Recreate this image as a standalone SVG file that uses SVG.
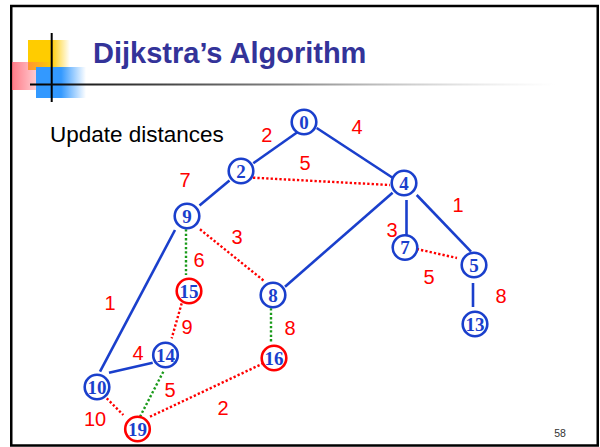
<svg xmlns="http://www.w3.org/2000/svg" width="600" height="447" viewBox="0 0 600 447">
<defs>
<linearGradient id="gy" x1="0" y1="0" x2="1" y2="0"><stop offset="0" stop-color="#FFCC00"/><stop offset="0.55" stop-color="#FFCC00"/><stop offset="1" stop-color="#FFCC00" stop-opacity="0"/></linearGradient>
<linearGradient id="gr" x1="0" y1="0" x2="1" y2="0"><stop offset="0" stop-color="#FF5A6A" stop-opacity="0.8"/><stop offset="1" stop-color="#FF5A6A" stop-opacity="0"/></linearGradient>
<linearGradient id="gb" x1="0" y1="0" x2="1" y2="0"><stop offset="0" stop-color="#3399FF"/><stop offset="0.5" stop-color="#3399FF"/><stop offset="1" stop-color="#3399FF" stop-opacity="0"/></linearGradient>
<linearGradient id="gl" x1="0" y1="0" x2="1" y2="0"><stop offset="0" stop-color="#000"/><stop offset="0.5" stop-color="#888"/><stop offset="1" stop-color="#ccc" stop-opacity="0"/></linearGradient>
</defs>
<style>
.title{font-family:"Liberation Sans",Arial,sans-serif;font-weight:bold;font-size:29px;fill:#333399}
.txt{font-family:"Liberation Sans",Arial,sans-serif;font-size:22.5px;fill:#000}
.w{font-family:"Liberation Sans",Arial,sans-serif;font-size:20px;fill:#FF0000;text-anchor:middle}
.n{font-family:"Liberation Serif","Times New Roman",serif;font-weight:bold;font-size:19px;fill:#1a3fcc;text-anchor:middle}
.cb{fill:#fff;stroke:#1a3fcc;stroke-width:2.6}
.cr{fill:#fff;stroke:#FF0000;stroke-width:2.6}
.s{stroke:#1a3fcc;stroke-width:2.6;fill:none}
.dr{stroke:#FF0000;stroke-width:2.4;stroke-dasharray:2.3 2.1;fill:none}
.dg{stroke:#1a9a1a;stroke-width:2.4;stroke-dasharray:2.3 2.1;fill:none}
</style>
<rect x="0" y="0" width="600" height="447" fill="#fff"/>
<rect x="11.25" y="6" width="586.5" height="439.5" fill="none" stroke="#000" stroke-width="2.5"/>
<g id="header">
<rect x="28" y="40" width="42" height="30" fill="url(#gy)"/>
<rect x="12" y="62" width="40" height="28" fill="url(#gr)"/>
<rect x="36" y="67" width="50" height="31" fill="url(#gb)"/>
<line x1="51.7" y1="33" x2="51.7" y2="102" stroke="#000" stroke-width="2"/>
<rect x="30" y="83.5" width="526" height="2" fill="url(#gl)"/>
<text class="title" x="93" y="63">Dijkstra’s Algorithm</text>
</g>
<text class="txt" x="50" y="142">Update distances</text>
<g id="connectors">
<line class="s" x1="253.3" y1="163.3" x2="297.3" y2="132.3"/>
<line class="s" x1="316.7" y1="128" x2="393" y2="178"/>
<line class="dr" x1="253" y1="177.7" x2="390" y2="185"/>
<line class="s" x1="229.5" y1="180.6" x2="199.5" y2="205.5"/>
<line class="s" x1="175" y1="230" x2="100" y2="371.7"/>
<line class="dg" x1="186" y1="229.3" x2="186" y2="275"/>
<line class="dr" x1="200" y1="229.3" x2="265" y2="281.7"/>
<line class="s" x1="392.6" y1="192.7" x2="285" y2="286.7"/>
<line class="s" x1="406.5" y1="200" x2="406.5" y2="235"/>
<line class="s" x1="416.7" y1="195" x2="471" y2="251.7"/>
<line class="dr" x1="416.7" y1="249" x2="457" y2="258"/>
<line class="s" x1="473" y1="283" x2="473" y2="307"/>
<line class="dr" x1="181.7" y1="303.3" x2="171.7" y2="338.3"/>
<line class="dg" x1="271" y1="308.3" x2="271" y2="343.3"/>
<line class="s" x1="109" y1="372.7" x2="152.7" y2="362.7"/>
<line class="dg" x1="163.3" y1="371.7" x2="140" y2="416.7"/>
<line class="dr" x1="106.7" y1="398.3" x2="123.3" y2="415"/>
<line class="dr" x1="150" y1="416.7" x2="263.3" y2="363.3"/>
</g>
<g id="weights">
<text class="w" x="266.7" y="142">2</text>
<text class="w" x="357" y="134">4</text>
<text class="w" x="305" y="170">5</text>
<text class="w" x="185" y="187">7</text>
<text class="w" x="458" y="212">1</text>
<text class="w" x="392" y="237">3</text>
<text class="w" x="429" y="284">5</text>
<text class="w" x="501" y="303">8</text>
<text class="w" x="237" y="244">3</text>
<text class="w" x="199" y="267">6</text>
<text class="w" x="110" y="310">1</text>
<text class="w" x="187" y="334">9</text>
<text class="w" x="290" y="335">8</text>
<text class="w" x="138" y="360">4</text>
<text class="w" x="170" y="397">5</text>
<text class="w" x="223" y="415">2</text>
<text class="w" x="95" y="426">10</text>
</g>
<g id="n0"><circle class="cb" cx="304" cy="122" r="12.3"/><text class="n" x="304" y="128.5">0</text></g>
<g id="n2"><circle class="cb" cx="241" cy="171" r="12.3"/><text class="n" x="241" y="177.5">2</text></g>
<g id="n4"><circle class="cb" cx="404" cy="183" r="12.3"/><text class="n" x="404" y="189.5">4</text></g>
<g id="n7"><circle class="cb" cx="405" cy="247.5" r="12.3"/><text class="n" x="405" y="254">7</text></g>
<g id="n5"><circle class="cb" cx="474" cy="265" r="12.3"/><text class="n" x="474" y="271.5">5</text></g>
<g id="n13"><circle class="cb" cx="475" cy="324" r="12.3"/><text class="n" x="475" y="330.5">13</text></g>
<g id="n9"><circle class="cb" cx="187" cy="216" r="12.3"/><text class="n" x="187" y="222.5">9</text></g>
<g id="n8"><circle class="cb" cx="273" cy="295" r="12.3"/><text class="n" x="273" y="301.5">8</text></g>
<g id="n15"><circle class="cr" cx="189" cy="291" r="12.3"/><text class="n" x="189" y="297.5">15</text></g>
<g id="n14"><circle class="cb" cx="165.5" cy="355" r="12.3"/><text class="n" x="165.5" y="361.5">14</text></g>
<g id="n16"><circle class="cr" cx="274" cy="358" r="12.3"/><text class="n" x="274" y="364.5">16</text></g>
<g id="n10"><circle class="cb" cx="97" cy="387" r="12.3"/><text class="n" x="97" y="393.5">10</text></g>
<g id="n19"><circle class="cr" cx="137.5" cy="429" r="12.3"/><text class="n" x="137.5" y="435.5">19</text></g>
<text x="560" y="437" font-family="'Liberation Sans',Arial,sans-serif" font-size="10.5" fill="#333" text-anchor="middle">58</text>
</svg>
